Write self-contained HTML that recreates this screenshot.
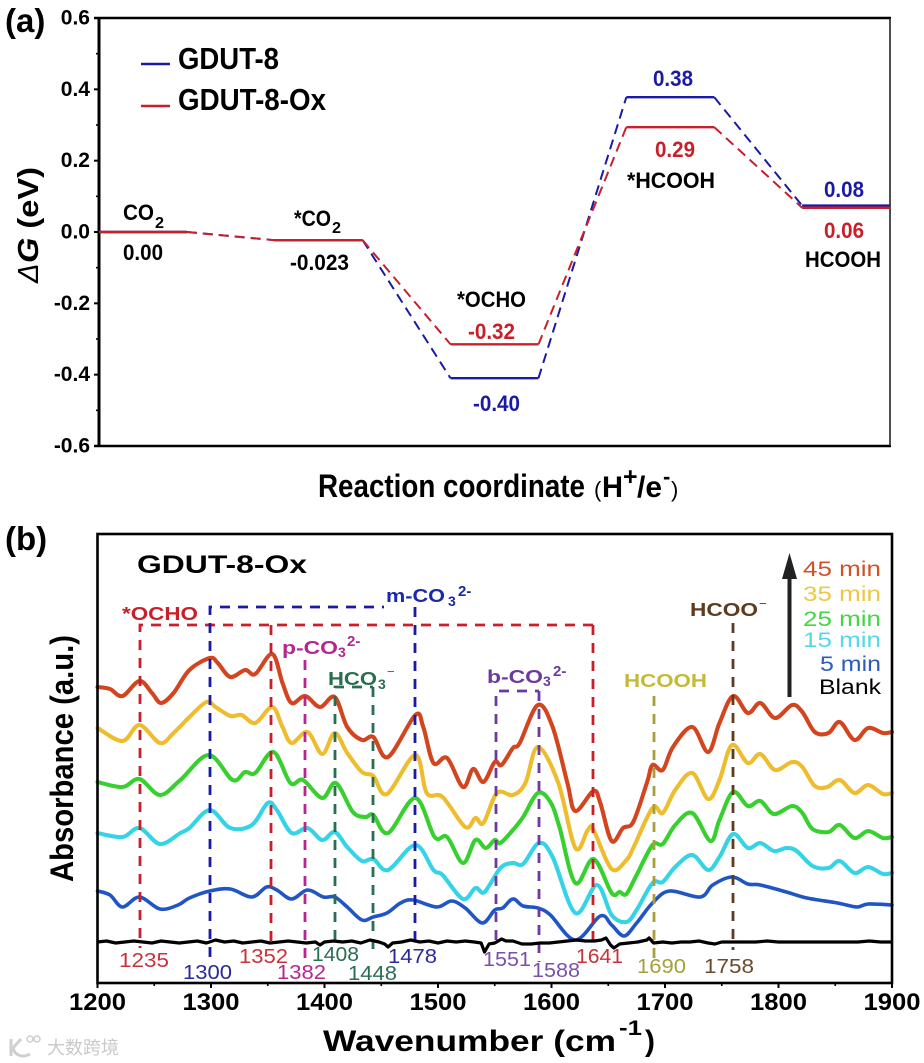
<!DOCTYPE html>
<html lang="en">
<head>
<meta charset="utf-8">
<title>GDUT-8 free energy diagram and in situ infrared spectra</title>
<style>
html,body{margin:0;padding:0;background:#fff;}
svg{display:block;}
text{font-family:"Liberation Sans","Noto Sans CJK SC",sans-serif;}
.bold{font-weight:700;}
</style>
</head>
<body>
<svg id="figure" xmlns="http://www.w3.org/2000/svg" width="924" height="1063" viewBox="0 0 924 1063">
<rect width="924" height="1063" fill="#fff"/>

<!-- panel a -->
<text class="bold" x="5" y="32" font-size="33">(a)</text>
<g id="panelA"></g>
<g>
  <line x1="141" x2="170" y1="64" y2="64" stroke="#1a1aa6" stroke-width="2.4"/>
  <text class="bold" x="178" y="69" font-size="31" textLength="101" lengthAdjust="spacingAndGlyphs">GDUT-8</text>
  <line x1="141" x2="170" y1="106" y2="106" stroke="#c8202a" stroke-width="2.4"/>
  <text class="bold" x="178" y="110" font-size="31" textLength="148" lengthAdjust="spacingAndGlyphs">GDUT-8-Ox</text>
</g>
<g>
  <text class="bold" x="123" y="220" font-size="22" textLength="31" lengthAdjust="spacingAndGlyphs">CO</text>
  <text class="bold" x="155" y="228" font-size="16" textLength="9" lengthAdjust="spacingAndGlyphs">2</text>
  <text class="bold" x="123" y="260" font-size="22" textLength="40" lengthAdjust="spacingAndGlyphs">0.00</text>
  <text class="bold" x="294" y="226" font-size="22" textLength="37" lengthAdjust="spacingAndGlyphs">*CO</text>
  <text class="bold" x="332" y="233" font-size="16" textLength="9" lengthAdjust="spacingAndGlyphs">2</text>
  <text class="bold" x="290" y="270" font-size="22" textLength="59" lengthAdjust="spacingAndGlyphs">-0.023</text>
  <text class="bold" x="457" y="307" font-size="22" textLength="69" lengthAdjust="spacingAndGlyphs">*OCHO</text>
  <text class="bold" x="468" y="339" font-size="22" fill="#c8202a" textLength="47" lengthAdjust="spacingAndGlyphs">-0.32</text>
  <text class="bold" x="473" y="411" font-size="22" fill="#1a1aa6" textLength="47" lengthAdjust="spacingAndGlyphs">-0.40</text>
  <text class="bold" x="653" y="86" font-size="22" fill="#1a1aa6" textLength="40" lengthAdjust="spacingAndGlyphs">0.38</text>
  <text class="bold" x="655" y="157" font-size="22" fill="#c8202a" textLength="40" lengthAdjust="spacingAndGlyphs">0.29</text>
  <text class="bold" x="627" y="188" font-size="22" textLength="88" lengthAdjust="spacingAndGlyphs">*HCOOH</text>
  <text class="bold" x="824" y="197" font-size="22" fill="#1a1aa6" textLength="40" lengthAdjust="spacingAndGlyphs">0.08</text>
  <text class="bold" x="824" y="238" font-size="22" fill="#c8202a" textLength="40" lengthAdjust="spacingAndGlyphs">0.06</text>
  <text class="bold" x="805" y="267" font-size="22" textLength="76" lengthAdjust="spacingAndGlyphs">HCOOH</text>
</g>
<g transform="translate(38,283) rotate(-90)">
  <text x="0" y="0" font-size="29" font-style="italic">Δ</text>
  <text class="bold" x="20" y="0" font-size="29" textLength="96" lengthAdjust="spacingAndGlyphs"><tspan font-style="italic">G</tspan> (eV)</text>
</g>
<g>
  <text class="bold" x="318" y="497" font-size="32" textLength="267" lengthAdjust="spacingAndGlyphs">Reaction coordinate</text>
  <text x="594" y="497" font-size="22">(</text>
  <text class="bold" x="602" y="497" font-size="30" textLength="21" lengthAdjust="spacingAndGlyphs">H</text>
  <text class="bold" x="623" y="485" font-size="25">+</text>
  <text class="bold" x="637" y="497" font-size="30" textLength="25" lengthAdjust="spacingAndGlyphs">/e</text>
  <text class="bold" x="663" y="484" font-size="22">-</text>
  <text x="671" y="497" font-size="22">)</text>
</g>

<!-- panel b -->
<text class="bold" x="5" y="550" font-size="33">(b)</text>
<g id="panelB"></g>

<text class="bold" x="137" y="573" font-size="25" textLength="170" lengthAdjust="spacingAndGlyphs">GDUT-8-Ox</text>

<g>
  <text class="bold" x="122" y="620" font-size="18" fill="#c8202a" textLength="76" lengthAdjust="spacingAndGlyphs">*OCHO</text>
  <text class="bold" x="386" y="602" font-size="18" fill="#1a2aa6" textLength="59" lengthAdjust="spacingAndGlyphs">m-CO</text>
  <text class="bold" x="448" y="606" font-size="14" fill="#1a2aa6">3</text>
  <text class="bold" x="458" y="596" font-size="15" fill="#1a2aa6">2-</text>
  <text class="bold" x="282" y="654" font-size="18" fill="#b5268f" textLength="56" lengthAdjust="spacingAndGlyphs">p-CO</text>
  <text class="bold" x="338" y="657" font-size="14" fill="#b5268f">3</text>
  <text class="bold" x="347" y="646" font-size="15" fill="#b5268f">2-</text>
  <text class="bold" x="328" y="685" font-size="18" fill="#2a6e52" textLength="49" lengthAdjust="spacingAndGlyphs">HCO</text>
  <text class="bold" x="378" y="689" font-size="14" fill="#2a6e52">3</text>
  <text x="387" y="676" font-size="13" fill="#2a6e52">−</text>
  <text class="bold" x="487" y="683" font-size="18" fill="#6b3aa0" textLength="56" lengthAdjust="spacingAndGlyphs">b-CO</text>
  <text class="bold" x="543" y="686" font-size="14" fill="#6b3aa0">3</text>
  <text class="bold" x="553" y="676" font-size="15" fill="#6b3aa0">2-</text>
  <text class="bold" x="624" y="687" font-size="18" fill="#c3bb35" textLength="83" lengthAdjust="spacingAndGlyphs">HCOOH</text>
  <text class="bold" x="690" y="616" font-size="18" fill="#5d3b1e" textLength="68" lengthAdjust="spacingAndGlyphs">HCOO</text>
  <text x="759" y="608" font-size="13" fill="#5d3b1e">−</text>
</g>

<g font-size="20">
  <text x="119" y="967" fill="#c8323a" textLength="50" lengthAdjust="spacingAndGlyphs">1235</text>
  <text x="183" y="979" fill="#2a2a9a" textLength="49" lengthAdjust="spacingAndGlyphs">1300</text>
  <text x="239" y="963" fill="#c8323a" textLength="49" lengthAdjust="spacingAndGlyphs">1352</text>
  <text x="277" y="979" fill="#b5268f" textLength="49" lengthAdjust="spacingAndGlyphs">1382</text>
  <text x="312" y="961" fill="#2a6e52" textLength="47" lengthAdjust="spacingAndGlyphs">1408</text>
  <text x="348" y="980" fill="#2a6e52" textLength="49" lengthAdjust="spacingAndGlyphs">1448</text>
  <text x="388" y="963" fill="#2a2a9a" textLength="49" lengthAdjust="spacingAndGlyphs">1478</text>
  <text x="483" y="966" fill="#7a50a8" textLength="48" lengthAdjust="spacingAndGlyphs">1551</text>
  <text x="532" y="977" fill="#7a50a8" textLength="48" lengthAdjust="spacingAndGlyphs">1588</text>
  <text x="576" y="963" fill="#c8323a" textLength="47" lengthAdjust="spacingAndGlyphs">1641</text>
  <text x="637" y="973" fill="#a7a03a" textLength="49" lengthAdjust="spacingAndGlyphs">1690</text>
  <text x="704" y="973" fill="#6b4a2c" textLength="50" lengthAdjust="spacingAndGlyphs">1758</text>
</g>

<g font-size="21">
  <text x="803" y="576" fill="#d4502a" textLength="78" lengthAdjust="spacingAndGlyphs">45 min</text>
  <text x="803" y="601" fill="#ebc845" textLength="78" lengthAdjust="spacingAndGlyphs">35 min</text>
  <text x="803" y="626" fill="#45d545" textLength="78" lengthAdjust="spacingAndGlyphs">25 min</text>
  <text x="803" y="647" fill="#55d8e8" textLength="78" lengthAdjust="spacingAndGlyphs">15 min</text>
  <text x="820" y="671" fill="#2a5cc0" textLength="61" lengthAdjust="spacingAndGlyphs">5 min</text>
  <text x="819" y="694" fill="#000" textLength="62" lengthAdjust="spacingAndGlyphs">Blank</text>
</g>
<g fill="#222">
  <rect x="787.5" y="577" width="4" height="120"/>
  <polygon points="789.5,553 797,579 782,579"/>
</g>

<g transform="translate(73,882) rotate(-90)">
  <text class="bold" x="0" y="0" font-size="32" textLength="247" lengthAdjust="spacingAndGlyphs">Absorbance (a.u.)</text>
</g>
<g>
  <text class="bold" x="323" y="1051" font-size="30" textLength="293" lengthAdjust="spacingAndGlyphs">Wavenumber (cm</text>
  <text class="bold" x="619" y="1035" font-size="21" textLength="23" lengthAdjust="spacingAndGlyphs">-1</text>
  <text class="bold" x="645" y="1051" font-size="30">)</text>
</g>

<g>
  <path d="M11 1039 v17 M13 1048 l8 -9 M13 1048 c2 8 10 10 17 6" fill="none" stroke="#cfcfcf" stroke-width="3"/>
  <circle cx="30" cy="1039" r="3" fill="none" stroke="#cfcfcf" stroke-width="1.5"/>
  <circle cx="37" cy="1039" r="3" fill="none" stroke="#cfcfcf" stroke-width="1.5"/>
  <text x="47" y="1054" font-size="18" fill="#c9c9c9" style='font-family:"Liberation Sans","Noto Sans CJK SC",sans-serif'>大数跨境</text>
</g>
</svg>

<script>
/* ---------- panel (a) data ---------- */
const energyStates = ['CO2', '*CO2', '*OCHO', '*HCOOH', 'HCOOH'];
const energyGdut8 = [0, -0.023, -0.41, 0.378, 0.074];
const energyGdut8Ox = [0, -0.023, -0.315, 0.294, 0.068];
const energyTicks = [0.6, 0.4, 0.2, 0.0, -0.2, -0.4, -0.6];
const energyMinorTicks = [0.5, 0.3, 0.1, -0.1, -0.3, -0.5];

/* ---------- panel (b) data ---------- */
const wavenumberTicks = [1200, 1300, 1400, 1500, 1600, 1700, 1800, 1900];
const wavenumberMinorTicks = [1250, 1350, 1450, 1550, 1650, 1750, 1850];

const wn45 = [1200,1211,1222,1237,1248,1256,1267,1281,1299,1306,1317,1330,1339,1354,1363,1371,1383,1396,1409,1420,1433,1443,1456,1480,1487,1496,1508,1522,1531,1540,1550,1556,1566,1572,1588,1601,1614,1621,1637,1643,1653,1663,1672,1684,1689,1698,1707,1724,1738,1748,1760,1773,1784,1797,1812,1821,1832,1844,1854,1867,1879,1892,1900];
const abs45 = [2.55,2.53,2.46,2.61,2.49,2.39,2.49,2.72,2.84,2.79,2.65,2.72,2.68,2.88,2.59,2.39,2.46,2.35,2.45,2.15,2.02,2.05,1.85,2.27,2.15,1.79,1.84,1.55,1.73,1.60,1.80,1.77,1.94,1.99,2.37,2.15,1.59,1.31,1.51,1.39,1.01,1.14,1.20,1.59,1.77,1.72,1.95,2.15,1.90,2.19,2.46,2.29,2.39,2.24,2.37,2.30,2.10,2.09,2.20,2.02,2.14,2.09,2.10];

const wn35 = [1200,1222,1237,1255,1267,1281,1296,1304,1317,1327,1339,1354,1363,1371,1385,1398,1409,1420,1433,1443,1455,1480,1490,1504,1524,1533,1540,1552,1566,1577,1588,1606,1621,1632,1637,1653,1666,1672,1689,1698,1709,1724,1738,1748,1759,1773,1784,1797,1812,1821,1832,1843,1854,1867,1879,1892,1900];
const abs35 = [2.14,2.01,2.17,1.99,2.09,2.25,2.40,2.35,2.26,2.27,2.19,2.35,2.15,1.99,2.10,1.88,2.09,1.89,1.70,1.66,1.48,1.87,1.49,1.45,1.15,1.24,1.19,1.49,1.47,1.59,1.95,1.59,0.94,1.12,1.12,0.73,0.82,0.94,1.34,1.29,1.52,1.69,1.43,1.62,1.97,1.79,1.88,1.72,1.80,1.75,1.56,1.55,1.62,1.49,1.57,1.48,1.49];

const wn25 = [1200,1222,1237,1255,1273,1298,1319,1330,1339,1355,1370,1381,1398,1410,1425,1436,1443,1456,1480,1497,1508,1522,1533,1542,1550,1555,1566,1575,1588,1599,1607,1621,1637,1653,1660,1666,1675,1689,1698,1709,1724,1740,1748,1760,1773,1784,1796,1812,1821,1830,1844,1854,1867,1879,1892,1900];
const abs25 = [1.60,1.55,1.63,1.47,1.62,1.87,1.62,1.70,1.69,1.90,1.59,1.62,1.44,1.59,1.30,1.25,1.27,1.09,1.44,1.05,1.05,0.79,1.02,0.94,1.02,0.99,1.12,1.25,1.49,1.40,1.15,0.59,0.83,0.49,0.50,0.48,0.67,0.97,0.98,1.17,1.29,1.01,1.22,1.50,1.36,1.41,1.28,1.36,1.29,1.13,1.10,1.17,1.04,1.11,1.04,1.05];

const wn15 = [1200,1222,1237,1255,1273,1281,1299,1317,1336,1350,1358,1371,1385,1398,1409,1420,1433,1443,1456,1480,1496,1504,1522,1533,1541,1555,1566,1575,1589,1601,1621,1640,1653,1666,1675,1689,1698,1709,1724,1738,1748,1760,1773,1784,1796,1807,1816,1830,1844,1854,1867,1879,1892,1900];
const abs15 = [1.09,1.05,1.14,0.98,1.09,1.14,1.32,1.14,1.17,1.39,1.32,1.09,1.14,1.02,1.10,0.95,0.81,0.83,0.72,0.97,0.72,0.67,0.43,0.54,0.50,0.74,0.79,0.78,0.99,0.85,0.29,0.57,0.27,0.20,0.32,0.59,0.60,0.75,0.87,0.72,0.85,1.08,0.94,0.99,0.91,0.94,0.91,0.76,0.74,0.81,0.69,0.75,0.68,0.69];

const wn5 = [1200,1211,1222,1237,1255,1271,1281,1299,1317,1336,1349,1358,1371,1385,1399,1409,1420,1433,1443,1455,1467,1478,1499,1512,1524,1539,1550,1557,1566,1575,1588,1599,1621,1643,1653,1664,1675,1689,1704,1731,1742,1759,1773,1784,1807,1825,1852,1869,1879,1900];
const abs5 = [0.51,0.47,0.35,0.45,0.33,0.37,0.44,0.51,0.53,0.45,0.55,0.52,0.43,0.52,0.45,0.45,0.35,0.22,0.25,0.29,0.39,0.42,0.35,0.41,0.34,0.19,0.32,0.34,0.43,0.36,0.34,0.27,0.02,0.26,0.17,0.06,0.19,0.39,0.51,0.45,0.57,0.65,0.58,0.57,0.50,0.44,0.39,0.35,0.38,0.37];

const wnBlank = [1200,1208,1216,1224,1232,1240,1248,1256,1264,1272,1280,1288,1296,1304,1312,1320,1328,1336,1344,1352,1360,1368,1376,1384,1392,1396,1400,1408,1416,1424,1432,1440,1448,1453,1456,1460,1468,1476,1484,1492,1500,1508,1516,1524,1532,1538,1541,1545,1550,1556,1560,1566,1574,1582,1590,1598,1606,1614,1622,1630,1638,1644,1648,1652,1655,1660,1668,1676,1684,1686,1690,1698,1706,1714,1722,1730,1738,1744,1750,1760,1770,1780,1790,1800,1810,1820,1830,1840,1850,1860,1870,1880,1890,1900];
const absBlank = [0.00,0.01,-0.01,0.00,0.01,0.00,-0.01,0.01,0.00,-0.01,0.00,0.01,-0.01,0.02,0.00,0.01,-0.01,0.00,0.01,-0.01,0.00,0.01,0.00,-0.01,0.00,-0.03,0.00,0.01,0.00,0.01,-0.01,0.02,0.00,-0.02,-0.05,-0.01,0.00,0.02,0.00,0.01,-0.01,0.01,0.00,0.01,0.00,-0.01,-0.10,-0.02,-0.01,0.03,0.01,0.01,-0.02,-0.02,-0.01,-0.01,0.00,0.01,0.02,0.01,0.01,0.02,0.04,-0.03,-0.06,-0.02,-0.01,0.00,0.02,0.04,-0.01,0.00,-0.01,0.00,0.00,0.01,-0.01,-0.02,0.00,0.00,0.00,0.00,0.01,0.00,0.00,0.00,0.00,0.00,0.00,0.00,0.00,0.01,0.00,0.00];

/* ---------- helpers ---------- */
const NS = 'http://www.w3.org/2000/svg';
function make(tag, attrs, parent) {
  const el = document.createElementNS(NS, tag);
  for (const k in attrs) el.setAttribute(k, attrs[k]);
  parent.appendChild(el);
  return el;
}
function smoothPath(xs, ys) {
  let d = 'M' + xs[0].toFixed(2) + ' ' + ys[0].toFixed(2);
  for (let i = 0; i < xs.length - 1; i++) {
    const p0 = Math.max(i - 1, 0), p2 = i + 1, p3 = Math.min(i + 2, xs.length - 1);
    const k = 1 / 6;
    const c1x = xs[i] + (xs[p2] - xs[p0]) * k, c1y = ys[i] + (ys[p2] - ys[p0]) * k;
    const c2x = xs[p2] - (xs[p3] - xs[i]) * k, c2y = ys[p2] - (ys[p3] - ys[i]) * k;
    d += 'C' + c1x.toFixed(2) + ' ' + c1y.toFixed(2) + ' ' + c2x.toFixed(2) + ' ' + c2y.toFixed(2) + ' ' + xs[p2].toFixed(2) + ' ' + ys[p2].toFixed(2);
  }
  return d;
}

/* ---------- panel (a) ---------- */
const panelA = document.getElementById('panelA');
const plotA = {left: 99, right: 890, top: 18, bottom: 446};
const xA = c => plotA.left + c / 9 * (plotA.right - plotA.left);
const yA = v => plotA.top + (0.6 - v) / 1.2 * (plotA.bottom - plotA.top);

const axisLeftA = make('line', {x1: plotA.left, x2: plotA.left, y1: plotA.top - 1, y2: plotA.bottom + 1, stroke: '#000', 'stroke-width': 3}, panelA);


const axisTopA = make('line', {x1: plotA.left - 5, x2: plotA.right + 1, y1: plotA.top, y2: plotA.top, stroke: '#000', 'stroke-width': 2.6}, panelA);


const axisBottomA = make('line', {x1: plotA.left - 5, x2: plotA.right + 1, y1: plotA.bottom, y2: plotA.bottom, stroke: '#000', 'stroke-width': 2.6}, panelA);


const axisRightA = make('line', {x1: plotA.right, x2: plotA.right, y1: plotA.top, y2: plotA.bottom, stroke: '#222', 'stroke-width': 1.6}, panelA);



energyTicks.forEach(function (v) {
  const tick = make('line', {x1: plotA.left - 5, x2: plotA.left, y1: yA(v), y2: yA(v), stroke: '#000', 'stroke-width': 2}, panelA);
  
  
  const label = make('text', {x: 90, y: yA(v) + 6.5, 'text-anchor': 'end', 'font-size': 21, class: 'bold'}, panelA);
  
  
  label.textContent = v.toFixed(1);
});
energyMinorTicks.forEach(function (v) {
  const tick = make('line', {x1: plotA.left - 3, x2: plotA.left, y1: yA(v), y2: yA(v), stroke: '#000', 'stroke-width': 1.6}, panelA);
  
  
});

function drawProfile(values, color, seriesName) {
  const group = make('g', {}, panelA);
  
  
  values.forEach(function (v, i) {
    const flat = make('line', {x1: xA(2 * i), x2: xA(2 * i + 1), y1: yA(v), y2: yA(v), stroke: color, 'stroke-width': 2.4}, group);
    
    
    if (i < values.length - 1) {
      const link = make('line', {x1: xA(2 * i + 1), x2: xA(2 * i + 2), y1: yA(v), y2: yA(values[i + 1]), stroke: color, 'stroke-width': 2, 'stroke-dasharray': '10 6'}, group);
      
      
    }
  });
}
drawProfile(energyGdut8, '#1a1aa6', 'gdut-8');
drawProfile(energyGdut8Ox, '#c8202a', 'gdut-8-ox');

/* ---------- panel (b) ---------- */
const panelB = document.getElementById('panelB');
const plotB = {left: 97.5, right: 892, top: 534, bottom: 983};
const xB = w => plotB.left + (w - 1200) / 700 * (plotB.right - plotB.left);
const yB = a => plotB.bottom - (a + 0.41) / 4.49 * (plotB.bottom - plotB.top);

const curveLayer = make('g', {}, panelB);



function drawSpectrum(wn, values, color, width, seriesName) {
  const path = make('path', {
    d: smoothPath(wn.map(xB), values.map(yB)),
    fill: 'none', stroke: color, 'stroke-width': width,
    'stroke-linejoin': 'round', 'stroke-linecap': 'round'
  }, curveLayer);
  
  
}
drawSpectrum(wn5, abs5, '#1f55c5', 3.6, '5-min');
drawSpectrum(wn15, abs15, '#35d3e6', 4.1, '15-min');
drawSpectrum(wn25, abs25, '#37d02f', 4.1, '25-min');
drawSpectrum(wn35, abs35, '#edbd2f', 4.1, '35-min');
drawSpectrum(wn45, abs45, '#d2451e', 4.1, '45-min');

/* guide lines: static annotation brackets */
const guideLayer = make('g', {fill: 'none', 'stroke-width': 2.8, 'stroke-dasharray': '10 8'}, panelB);


guideLayer.innerHTML =
  '<path stroke="#c8202a" d="M593 625H140V948"/>' +
  '<path stroke="#c8202a" d="M271 625V948"/>' +
  '<path stroke="#c8202a" d="M593 625V947"/>' +
  '<path stroke="#1a1aa6" d="M210 957V607H384"/>' +
  '<path stroke="#1a1aa6" d="M415 607V950"/>' +
  '<path stroke="#b5268f" d="M305 660V967"/>' +
  '<path stroke="#2a6e52" d="M335 940V687H373"/>' +
  '<path stroke="#2a6e52" d="M373 687V955"/>' +
  '<path stroke="#6b3aa0" d="M496 940V691H539"/>' +
  '<path stroke="#6b3aa0" d="M539 691V962"/>' +
  '<path stroke="#a7a03a" d="M654 696V958"/>' +
  '<path stroke="#5d3b1e" d="M733 623V950"/>';

const blankPath = make('path', {
  d: 'M' + wnBlank.map(function (w, i) { return xB(w).toFixed(2) + ' ' + yB(absBlank[i]).toFixed(2); }).join('L'),
  fill: 'none', stroke: '#000', 'stroke-width': 3.2, 'stroke-linejoin': 'round'
}, panelB);



const frameB = make('rect', {x: plotB.left, y: plotB.top, width: plotB.right - plotB.left, height: plotB.bottom - plotB.top, fill: 'none', stroke: '#000', 'stroke-width': 2.6}, panelB);



wavenumberTicks.forEach(function (w) {
  const tick = make('line', {x1: xB(w), x2: xB(w), y1: plotB.bottom, y2: plotB.bottom + 5, stroke: '#000', 'stroke-width': 2}, panelB);
  
  
  const label = make('text', {x: xB(w) - 28.5, y: 1010, 'font-size': 24, class: 'bold', textLength: 57, lengthAdjust: 'spacingAndGlyphs'}, panelB);
  
  
  label.textContent = String(w);
});
wavenumberMinorTicks.forEach(function (w) {
  const tick = make('line', {x1: xB(w), x2: xB(w), y1: plotB.bottom, y2: plotB.bottom + 3, stroke: '#000', 'stroke-width': 1.6}, panelB);
  
  
});
</script>
</body>
</html>
